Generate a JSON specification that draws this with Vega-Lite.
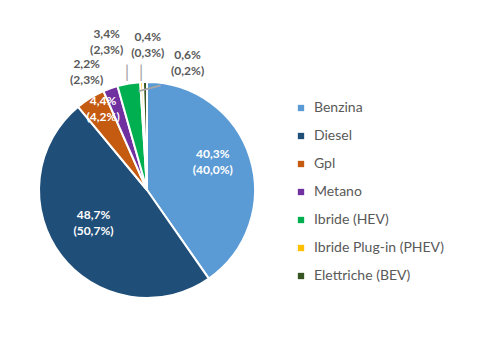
{
  "$schema": "https://vega.github.io/schema/vega-lite/v6.json",
  "width": 294,
  "height": 340,
  "padding": {"left": 0, "top": 20, "right": 0, "bottom": 0},
  "autosize": {"type": "pad"},
  "background": "white",
  "config": {"view": {"stroke": null}, "font": "Lato"},
  "data": {
    "values": [
      {"n": 1, "fuel": "Benzina", "value": 40.3, "label": "40,3%\n(40,0%)"},
      {"n": 2, "fuel": "Diesel", "value": 48.7, "label": "48,7%\n(50,7%)"},
      {"n": 3, "fuel": "Gpl", "value": 4.4, "label": "4,4%\n(4,2%)"},
      {"n": 4, "fuel": "Metano", "value": 2.2, "label": "2,2%\n(2,3%)"},
      {"n": 5, "fuel": "Ibride (HEV)", "value": 3.4, "label": "3,4%\n(2,3%)"},
      {"n": 6, "fuel": "Ibride Plug-in  (PHEV)", "value": 0.4, "label": "0,4%\n(0,3%)"},
      {"n": 7, "fuel": "Elettriche (BEV)", "value": 0.6, "label": "0,6%\n(0,2%)"}
    ]
  },
  "encoding": {
    "theta": {"field": "value", "type": "quantitative", "stack": true},
    "order": {"field": "n", "type": "quantitative"}
  },
  "layer": [
    {
      "mark": {"type": "arc", "outerRadius": 108, "stroke": "white", "strokeWidth": 2},
      "encoding": {
        "color": {
          "field": "fuel",
          "type": "nominal",
          "scale": {
            "domain": ["Benzina", "Diesel", "Gpl", "Metano", "Ibride (HEV)", "Ibride Plug-in  (PHEV)", "Elettriche (BEV)"],
            "range": ["#5B9BD5", "#1F4E79", "#C55A11", "#7030A0", "#00B050", "#FFC000", "#375623"]
          },
          "legend": {
            "title": null,
            "orient": "none",
            "legendX": 294,
            "legendY": 81,
            "symbolType": "square",
            "symbolSize": 40,
            "symbolStrokeWidth": 0,
            "labelFont": "Lato",
            "labelFontSize": 14,
            "labelColor": "#595959",
            "rowPadding": 14,
            "labelOffset": 6
          }
        }
      }
    },
    {
      "mark": {"type": "text", "radius": 70, "dx": -1, "dy": -15, "lineBreak": "\n", "lineHeight": 16, "fontSize": 12, "fontWeight": "bold", "color": "white", "baseline": "middle", "align": "center"},
      "encoding": {"text": {"condition": {"test": "datum.fuel === 'Benzina'", "field": "label"}, "value": ""}}
    },
    {
      "mark": {"type": "text", "radius": 66, "dx": -1, "dy": -15, "lineBreak": "\n", "lineHeight": 16, "fontSize": 12, "fontWeight": "bold", "color": "white", "baseline": "middle", "align": "center"},
      "encoding": {"text": {"condition": {"test": "datum.fuel === 'Diesel'", "field": "label"}, "value": ""}}
    },
    {
      "mark": {"type": "text", "radius": 95, "dx": 6, "dy": -8, "lineBreak": "\n", "lineHeight": 16, "fontSize": 12, "fontWeight": "bold", "color": "white", "baseline": "middle", "align": "center"},
      "encoding": {"text": {"condition": {"test": "datum.fuel === 'Gpl'", "field": "label"}, "value": ""}}
    },
    {
      "mark": {"type": "text", "radius": 125, "dx": -18, "dy": -8, "lineBreak": "\n", "lineHeight": 16, "fontSize": 12, "fontWeight": "bold", "color": "#595959", "baseline": "middle", "align": "center"},
      "encoding": {"text": {"condition": {"test": "datum.fuel === 'Metano'", "field": "label"}, "value": ""}}
    },
    {
      "mark": {"type": "text", "radius": 150, "dx": -15, "dy": -8, "lineBreak": "\n", "lineHeight": 16, "fontSize": 12, "fontWeight": "bold", "color": "#595959", "baseline": "middle", "align": "center"},
      "encoding": {"text": {"condition": {"test": "datum.fuel === 'Ibride (HEV)'", "field": "label"}, "value": ""}}
    },
    {
      "mark": {"type": "text", "radius": 145, "dx": 8, "dy": -8, "lineBreak": "\n", "lineHeight": 16, "fontSize": 12, "fontWeight": "bold", "color": "#595959", "baseline": "middle", "align": "center"},
      "encoding": {"text": {"condition": {"test": "datum.fuel === 'Ibride Plug-in  (PHEV)'", "field": "label"}, "value": ""}}
    },
    {
      "mark": {"type": "text", "radius": 127, "dx": 43, "dy": -8, "lineBreak": "\n", "lineHeight": 16, "fontSize": 12, "fontWeight": "bold", "color": "#595959", "baseline": "middle", "align": "center"},
      "encoding": {"text": {"condition": {"test": "datum.fuel === 'Elettriche (BEV)'", "field": "label"}, "value": ""}}
    },
    {
      "mark": {"type": "text", "radius": 119, "dx": 0, "dy": 0, "text": "|", "fontSize": 18, "color": "#a6a6a6", "baseline": "middle", "align": "center"},
      "encoding": {"opacity": {"condition": {"test": "datum.fuel === 'Ibride (HEV)'", "value": 1}, "value": 0}}
    },
    {
      "mark": {"type": "text", "radius": 118, "dx": 0, "dy": 1, "text": "|", "fontSize": 17, "color": "#a6a6a6", "baseline": "middle", "align": "center"},
      "encoding": {"opacity": {"condition": {"test": "datum.fuel === 'Ibride Plug-in  (PHEV)'", "value": 1}, "value": 0}}
    },
    {
      "mark": {"type": "text", "radius": 112, "dx": 11, "dy": -1.5, "angle": 75, "text": "|", "fontSize": 24, "color": "#a6a6a6", "baseline": "middle", "align": "center"},
      "encoding": {"opacity": {"condition": {"test": "datum.fuel === 'Elettriche (BEV)'", "value": 1}, "value": 0}}
    }
  ]
}
